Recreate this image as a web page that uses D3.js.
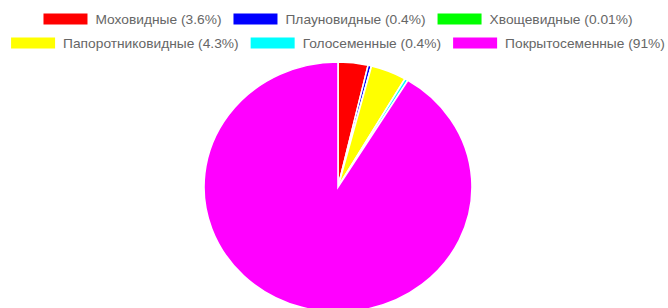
<!DOCTYPE html>
<html>
<head>
<meta charset="utf-8">
<script src="https://cdn.jsdelivr.net/npm/d3@7"></script>
<style>
  html, body { margin: 0; padding: 0; background: #fff; }
  svg { display: block; }
</style>
</head>
<body>
<div id="chart"></div>
<script>
const labels = ["Моховидные (3.6%)", "Плауновидные (0.4%)", "Хвощевидные (0.01%)",
                "Папоротниковидные (4.3%)", "Голосеменные (0.4%)", "Покрытосеменные (91%)"];
const values = [3.6, 0.4, 0.01, 4.3, 0.4, 91];
const colors = ["#ff0000", "#0000ff", "#00ff00", "#ffff00", "#00ffff", "#ff00ff"];
const legendRows = [[0, 1, 2], [3, 4, 5]];

const width = 668, height = 308;
const svg = d3.select("#chart").append("svg")
  .attr("width", width).attr("height", height);

// pie (the picture is stretched a little sideways)
const cx = 338, cy = 187, r = 125, sx = 1.072;
const pie = d3.pie().sort(null).value(d => d)
  .startAngle(0).endAngle(2 * Math.PI);
const arc = d3.arc().innerRadius(0).outerRadius(r);

svg.append("g")
  .attr("transform", `translate(${cx},${cy}) scale(${sx},1)`)
  .selectAll("path")
  .data(pie(values))
  .join("path")
  .attr("d", arc)
  .attr("fill", (d, i) => colors[i])
  .attr("stroke", "#fff")
  .attr("stroke-width", 1.5);

// legend
const boxW = 44, boxH = 11, gapText = 8, gapItem = 12, tx = 1.06;
const rowY = [19, 43];
const legend = svg.append("g");

legendRows.forEach((row, ri) => {
  const g = legend.append("g");
  let x = 0;
  row.forEach(i => {
    g.append("rect")
      .attr("x", x).attr("y", rowY[ri] - boxH / 2)
      .attr("width", boxW).attr("height", boxH)
      .attr("fill", colors[i]);
    const t = g.append("g")
      .attr("transform", `translate(${x + boxW + gapText},${rowY[ri]}) scale(${tx},1)`)
      .append("text")
      .attr("dy", "0.35em")
      .attr("font-family", "Liberation Sans, Arial, sans-serif")
      .attr("font-size", 13)
      .attr("fill", "#666")
      .text(labels[i]);
    x += boxW + gapText + t.node().getComputedTextLength() * tx + gapItem;
  });
  const total = x - gapItem;
  g.attr("transform", `translate(${338 - total / 2},0)`);
});
</script>
</body>
</html>
